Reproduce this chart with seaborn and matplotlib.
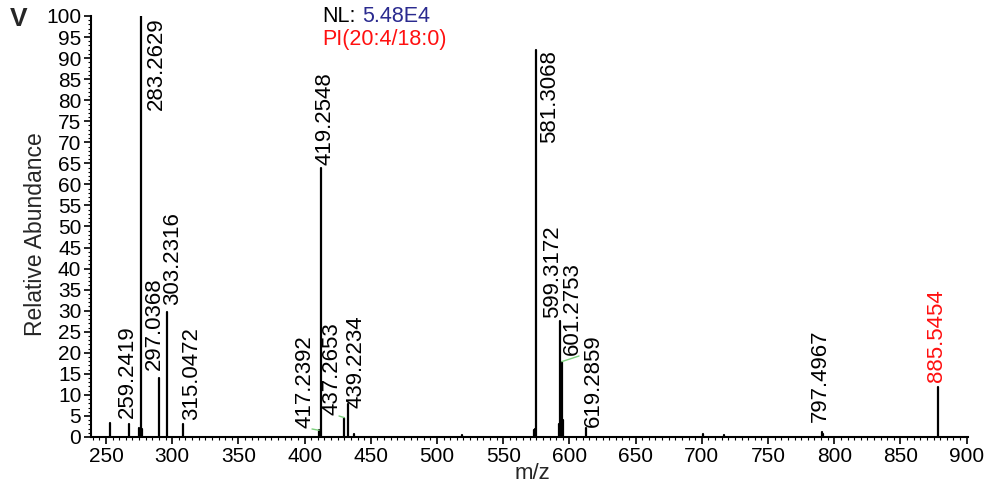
import numpy as np
import pandas as pd
import matplotlib
matplotlib.use("Agg")
import matplotlib.pyplot as plt
from matplotlib.ticker import MultipleLocator
import seaborn as sns

# ---------------- data ----------------
# labelled peaks (drawn position on the m/z axis, relative abundance, label text)
peak_mz = [267.4, 276.2, 290.0, 296.3, 308.4, 410.9, 412.2, 430.0, 432.6,
           574.5, 592.9, 594.2, 612.5, 790.6, 878.2]
peak_int = [3.2, 100.0, 14.0, 29.8, 3.2, 1.6, 63.8, 4.6, 7.8,
            91.9, 27.6, 17.9, 2.1, 1.3, 11.9]
peak_labels = ["259.2419", "283.2629", "297.0368", "303.2316", "315.0472",
               "417.2392", "419.2548", "437.2653", "439.2234", "581.3068",
               "599.3172", "601.2753", "619.2859", "797.4967", "885.5454"]
# unlabelled minor peaks
minor_mz = [253.0, 274.6, 275.4, 277.0, 411.6, 437.5, 518.6, 573.2, 573.8,
            592.2, 593.5, 595.0, 700.7, 716.8, 791.4]
minor_int = [3.4, 2.2, 1.8, 2.0, 1.3, 0.8, 0.5, 1.6, 2.0,
             3.0, 5.0, 4.0, 0.6, 0.4, 0.6]

nl_value = "5.48E4"
compound = "PI(20:4/18:0)"
panel = "V"

# ---------------- layout (label anchors, pixel-space read-off) ----------------
# (centre x px, lower end y px, mode) for each label; 'b' = above peak, 't' = beside top
label_layout = [(127, 418, 'b'), (156, 17, 't'), (154, 370, 'b'), (173, 305, 'b'),
                (192, 420, 'b'), (305, 428, 'b'), (325, 165, 'b'), (332, 415, 'b'),
                (356, 408, 'b'), (550, 50, 't'), (553, 318, 'b'), (572, 355, 'b'),
                (593.5, 427, 'b'), (820, 422, 'b'), (937, 382, 'b')]
label_colors = ['black'] * 14 + ['#ff1010']
connector_idx = [5, 7, 11]

W, H = 987, 488
sns.set_theme(style="ticks")
plt.rcParams['font.family'] = ['Liberation Sans', 'DejaVu Sans']

fig = plt.figure(figsize=(W / 100, H / 100), dpi=100)
ax_l, ax_r, ax_t, ax_b = 91, 968, 16, 437
ax = fig.add_axes([ax_l / W, 1 - ax_b / H, (ax_r - ax_l) / W, (ax_b - ax_t) / H])
xmin, xmax = 238.7, 901.0
ymin, ymax = 0.0, 100.0
ax.set_xlim(xmin, xmax)
ax.set_ylim(ymin, ymax)

def px2data(px, py):
    x = xmin + (px - ax_l) / (ax_r - ax_l) * (xmax - xmin)
    y = ymin + (ax_b - py) / (ax_b - ax_t) * (ymax - ymin)
    return x, y

# stick spectrum drawn via seaborn lineplot (one unit per stick)
all_mz = peak_mz + minor_mz
all_int = peak_int + minor_int
rows = []
for i, (m, v) in enumerate(zip(all_mz, all_int)):
    rows.append((i, m, 0.0))
    rows.append((i, m, v))
df = pd.DataFrame(rows, columns=["id", "mz", "abund"])
sns.lineplot(data=df, x="mz", y="abund", units="id", estimator=None, sort=False,
             color="black", lw=1.6, ax=ax, legend=False)

# peak labels
for i, (lab, (cx, py, mode), col) in enumerate(zip(peak_labels, label_layout, label_colors)):
    x, y = px2data(cx, py)
    ax.text(x, y, lab, rotation=90, ha='center', va='bottom' if mode == 'b' else 'top',
            fontsize=16, color=col, clip_on=False)

# green connector lines from label to peak top
for i in connector_idx:
    cx, py, _ = label_layout[i]
    lx, ly = px2data(cx + 7, py + 1)
    ax.plot([lx, peak_mz[i]], [ly, peak_int[i]], color='#7ccf7c', lw=1.0)

ax.set_xlabel("m/z", fontsize=16, va='top')
ax.xaxis.set_label_coords(0.503, (ax_b - 463) / (ax_b - ax_t))
ax.set_ylabel("Relative Abundance", fontsize=16.5)
ax.yaxis.set_label_coords(-0.050, 0.481)

ax.xaxis.set_major_locator(MultipleLocator(50))
ax.xaxis.set_minor_locator(MultipleLocator(5))
ax.yaxis.set_major_locator(MultipleLocator(5))
ax.yaxis.set_minor_locator(MultipleLocator(1))
ax.tick_params(axis='both', which='major', labelsize=15, length=5, width=1.2,
               color='black', pad=2, labelcolor='black')
ax.tick_params(axis='both', which='minor', length=2.5, width=0.8, color='black')
sns.despine(ax=ax)
for s in ['left', 'bottom']:
    ax.spines[s].set_linewidth(1.5)
    ax.spines[s].set_color('black')

# header texts
fig.text(10 / W, 1 - 7 / H, panel, fontsize=19, fontweight='bold', ha='left', va='top')
fig.text(322 / W, 1 - 22 / H, "NL:", fontsize=15.5, color='black', ha='left', va='baseline')
fig.text(362 / W, 1 - 22 / H, nl_value, fontsize=15.5, color='#2a2a8f', ha='left', va='baseline')
fig.text(322 / W, 1 - 45 / H, compound, fontsize=15.5, color='#ff1010', ha='left', va='baseline')

fig.savefig("out.png", dpi=100, facecolor='white')
